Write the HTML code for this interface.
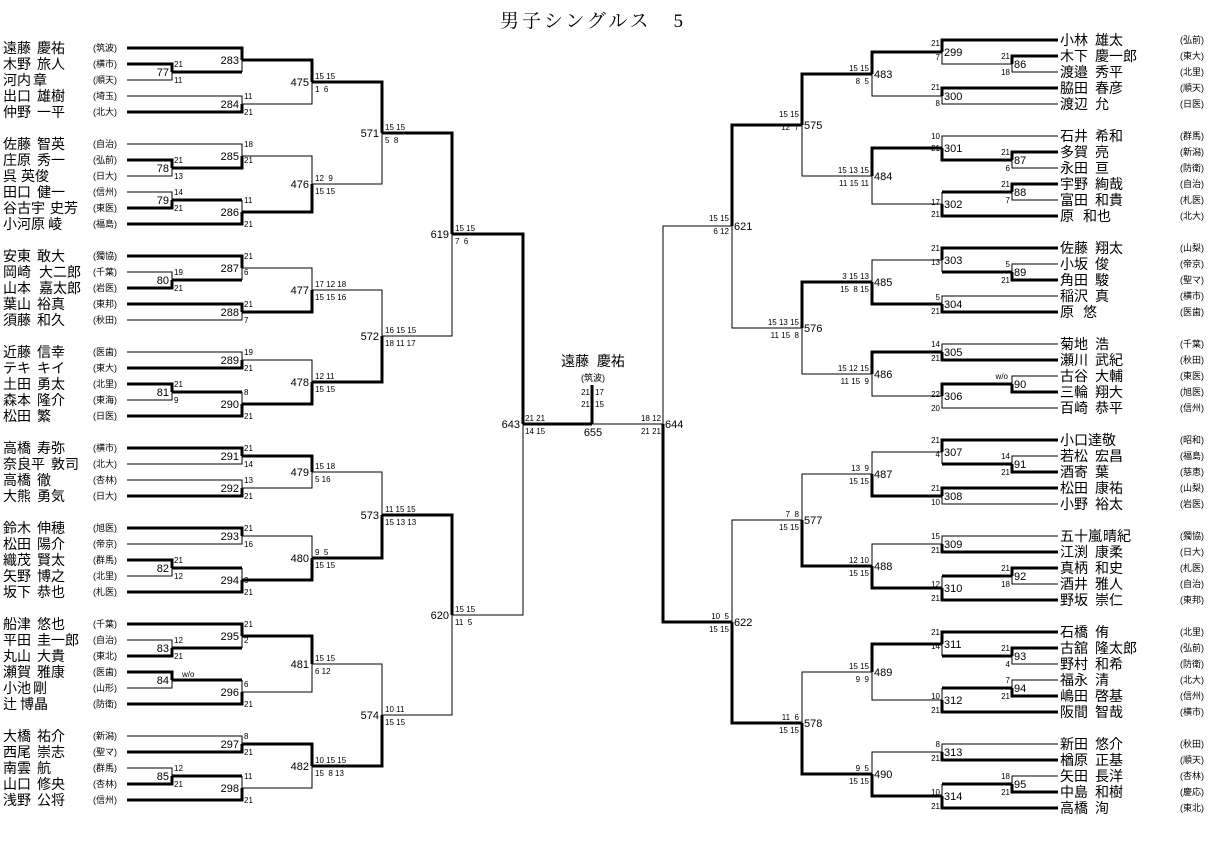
<!DOCTYPE html>
<html><head><meta charset="utf-8"><style>
html,body{margin:0;padding:0;background:#fff;width:1214px;height:841px;overflow:hidden}
svg{display:block}
text{font-family:"Liberation Sans","Noto Sans CJK JP",sans-serif;fill:#000;white-space:pre}
.n{font-size:14px}
.s{font-size:9px}
.m{font-size:11px}
.c{font-size:8px}
.r{text-anchor:end}
.ct{text-anchor:middle}
</style></head><body>
<svg width="1214" height="841" viewBox="0 0 1214 841" xmlns="http://www.w3.org/2000/svg" shape-rendering="crispEdges">
<text x="500" y="27" font-size="19" textLength="183" style='font-family:"Liberation Serif","Noto Serif CJK SC",serif'>男子シングルス　5</text>

<g fill="none" stroke="#000" stroke-width="3">
<path d="M127 64H172V72M127 48H242V60M172 72H242M127 112H242V104M242 60H312V82
M127 160H172V168M172 168H242V156M127 208H172V200M172 200H242M127 224H242V212M242 212H312V184M312 82H382V133
M127 288H172V280M127 256H242V268M172 280H242M127 304H242V312M242 312H312V290
M127 384H172V392M127 368H242V360M172 392H242M127 416H242V404M242 404H312V382M312 382H382V336M382 133H452V234
M127 448H242V456M127 496H242V488M242 456H312V472
M127 528H242V536M127 560H172V568M172 568H242M127 592H242V580M242 580H312V558M312 558H382V515
M127 656H172V648M127 624H242V636M172 648H242M127 672H172V680M172 680H242M127 704H242V692M242 636H312V664
M127 752H242V744M127 784H172V776M172 776H242M127 800H242V788M242 744H312V766M312 766H382V715M382 515H452V615
M452 234H523V424M523 424H592M592 385V424"/>
<path d="M1058 56H1012V64M1058 40H942V52M1058 88H942V96M942 52H872V74
M1058 152H1012V160M1012 160H942V148M1058 184H1012V192M1012 192H942M1058 216H942V204M942 148H872V176M872 74H802V125
M1058 280H1012V272M1058 248H942V260M1012 272H942M1058 312H942V304M942 304H872V282
M1058 360H942V352M1058 392H1012V384M1012 384H942V396M942 352H872V374M872 282H802V328M802 125H732V226
M1058 472H1012V464M1058 440H942V452M1012 464H942M1058 488H942V496M942 496H872V474
M1058 552H942V544M1058 568H1012V576M1012 576H942M1058 600H942V588M942 588H872V566M872 566H802V520
M1058 648H1012V656M1058 632H942V644M1012 656H942M1058 696H1012V688M1012 688H942M1058 712H942V700M942 644H872V672
M1058 760H942V752M1058 792H1012V784M1012 784H942M1058 808H942V796M942 796H872V774M872 774H802V723M802 723H732V622
M732 622H663V424"/>
</g>
<g fill="none" stroke="#000" stroke-width="1">
<path d="M127 80H172V72M242 72V60M127 96H242V104M242 104H312V82
M127 176H172V168M127 144H242V156M127 192H172V200M242 200V212M242 156H312V184M312 184H382V133
M127 272H172V280M242 280V268M127 320H242V312M242 268H312V290
M127 400H172V392M127 352H242V360M242 392V404M242 360H312V382M312 290H382V336M382 336H452V234
M127 464H242V456M127 480H242V488M242 488H312V472
M127 544H242V536M127 576H172V568M242 568V580M242 536H312V558M312 472H382V515
M127 640H172V648M242 648V636M127 688H172V680M242 680V692M242 692H312V664
M127 736H242V744M127 768H172V776M242 776V788M242 788H312V766M312 664H382V715M382 715H452V615
M452 615H523V424M592 424H663"/>
<path d="M1058 72H1012V64M1012 64H942V52M1058 104H942V96M942 96H872V74
M1058 168H1012V160M1058 136H942V148M1058 200H1012V192M942 192V204M942 204H872V176M872 176H802V125
M1058 264H1012V272M942 272V260M1058 296H942V304M942 260H872V282
M1058 344H942V352M1058 376H1012V384M1058 408H942V396M942 396H872V374M872 374H802V328M802 328H732V226
M1058 456H1012V464M942 464V452M1058 504H942V496M942 452H872V474
M1058 536H942V544M1058 584H1012V576M942 576V588M942 544H872V566M872 474H802V520
M1058 664H1012V656M942 656V644M1058 680H1012V688M942 688V700M942 700H872V672
M1058 744H942V752M1058 776H1012V784M942 784V796M942 752H872V774M872 672H802V723M802 520H732V622
M732 226H663V424"/>
</g>

<!-- LEFT NAMES -->
<g class="n">
<text x="3" y="53">遠藤</text><text x="37" y="53">慶祐</text>
<text x="3" y="69">木野</text><text x="37" y="69">旅人</text>
<text x="3" y="85">河内</text><text x="33" y="85">章</text>
<text x="3" y="101">出口</text><text x="37" y="101">雄樹</text>
<text x="3" y="117">仲野</text><text x="37" y="117">一平</text>
<text x="3" y="149">佐藤</text><text x="37" y="149">智英</text>
<text x="3" y="165">庄原</text><text x="37" y="165">秀一</text>
<text x="3" y="181">呉</text><text x="21" y="181">英俊</text>
<text x="3" y="197">田口</text><text x="37" y="197">健一</text>
<text x="3" y="213">谷古宇</text><text x="50" y="213">史芳</text>
<text x="3" y="229">小河原</text><text x="48" y="229">崚</text>
<text x="3" y="261">安東</text><text x="37" y="261">敢大</text>
<text x="3" y="277">岡崎</text><text x="39" y="277">大二郎</text>
<text x="3" y="293">山本</text><text x="39" y="293">嘉太郎</text>
<text x="3" y="309">葉山</text><text x="37" y="309">裕真</text>
<text x="3" y="325">須藤</text><text x="37" y="325">和久</text>
<text x="3" y="357">近藤</text><text x="37" y="357">信幸</text>
<text x="3" y="373">テキ</text><text x="37" y="373">キイ</text>
<text x="3" y="389">土田</text><text x="37" y="389">勇太</text>
<text x="3" y="405">森本</text><text x="37" y="405">隆介</text>
<text x="3" y="421">松田</text><text x="37" y="421">繁</text>
<text x="3" y="453">高橋</text><text x="37" y="453">寿弥</text>
<text x="3" y="469">奈良平</text><text x="51" y="469">敦司</text>
<text x="3" y="485">高橋</text><text x="37" y="485">徹</text>
<text x="3" y="501">大熊</text><text x="37" y="501">勇気</text>
<text x="3" y="533">鈴木</text><text x="37" y="533">伸穂</text>
<text x="3" y="549">松田</text><text x="37" y="549">陽介</text>
<text x="3" y="565">織茂</text><text x="37" y="565">賢太</text>
<text x="3" y="581">矢野</text><text x="37" y="581">博之</text>
<text x="3" y="597">坂下</text><text x="37" y="597">恭也</text>
<text x="3" y="629">船津</text><text x="37" y="629">悠也</text>
<text x="3" y="645">平田</text><text x="37" y="645">圭一郎</text>
<text x="3" y="661">丸山</text><text x="37" y="661">大貴</text>
<text x="3" y="677">瀬賀</text><text x="37" y="677">雅康</text>
<text x="3" y="693">小池</text><text x="33" y="693">剛</text>
<text x="3" y="709">辻</text><text x="20" y="709">博晶</text>
<text x="3" y="741">大橋</text><text x="37" y="741">祐介</text>
<text x="3" y="757">西尾</text><text x="37" y="757">崇志</text>
<text x="3" y="773">南雲</text><text x="37" y="773">航</text>
<text x="3" y="789">山口</text><text x="37" y="789">修央</text>
<text x="3" y="805">浅野</text><text x="37" y="805">公将</text>
</g>
<g class="s">
<text x="93" y="51">(筑波)</text><text x="93" y="67">(横市)</text><text x="93" y="83">(順天)</text><text x="93" y="99">(埼玉)</text><text x="93" y="115">(北大)</text>
<text x="93" y="147">(自治)</text><text x="93" y="163">(弘前)</text><text x="93" y="179">(日大)</text><text x="93" y="195">(信州)</text><text x="93" y="211">(東医)</text><text x="93" y="227">(福島)</text>
<text x="93" y="259">(獨協)</text><text x="93" y="275">(千葉)</text><text x="93" y="291">(岩医)</text><text x="93" y="307">(東邦)</text><text x="93" y="323">(秋田)</text>
<text x="93" y="355">(医歯)</text><text x="93" y="371">(東大)</text><text x="93" y="387">(北里)</text><text x="93" y="403">(東海)</text><text x="93" y="419">(日医)</text>
<text x="93" y="451">(横市)</text><text x="93" y="467">(北大)</text><text x="93" y="483">(杏林)</text><text x="93" y="499">(日大)</text>
<text x="93" y="531">(旭医)</text><text x="93" y="547">(帝京)</text><text x="93" y="563">(群馬)</text><text x="93" y="579">(北里)</text><text x="93" y="595">(札医)</text>
<text x="93" y="627">(千葉)</text><text x="93" y="643">(自治)</text><text x="93" y="659">(東北)</text><text x="93" y="675">(医歯)</text><text x="93" y="691">(山形)</text><text x="93" y="707">(防衛)</text>
<text x="93" y="739">(新潟)</text><text x="93" y="755">(聖マ)</text><text x="93" y="771">(群馬)</text><text x="93" y="787">(杏林)</text><text x="93" y="803">(信州)</text>
</g>

<!-- RIGHT NAMES -->
<g class="n">
<text x="1060" y="45">小林</text><text x="1095" y="45">雄太</text>
<text x="1060" y="61">木下</text><text x="1095" y="61">慶一郎</text>
<text x="1060" y="77">渡邉</text><text x="1095" y="77">秀平</text>
<text x="1060" y="93">脇田</text><text x="1095" y="93">春彦</text>
<text x="1060" y="109">渡辺</text><text x="1095" y="109">允</text>
<text x="1060" y="141">石井</text><text x="1095" y="141">希和</text>
<text x="1060" y="157">多賀</text><text x="1095" y="157">亮</text>
<text x="1060" y="173">永田</text><text x="1095" y="173">亘</text>
<text x="1060" y="189">宇野</text><text x="1095" y="189">絢哉</text>
<text x="1060" y="205">富田</text><text x="1095" y="205">和貴</text>
<text x="1060" y="221">原</text><text x="1083" y="221">和也</text>
<text x="1060" y="253">佐藤</text><text x="1095" y="253">翔太</text>
<text x="1060" y="269">小坂</text><text x="1095" y="269">俊</text>
<text x="1060" y="285">角田</text><text x="1095" y="285">駿</text>
<text x="1060" y="301">稲沢</text><text x="1095" y="301">真</text>
<text x="1060" y="317">原</text><text x="1083" y="317">悠</text>
<text x="1060" y="349">菊地</text><text x="1095" y="349">浩</text>
<text x="1060" y="365">瀬川</text><text x="1095" y="365">武紀</text>
<text x="1060" y="381">古谷</text><text x="1095" y="381">大輔</text>
<text x="1060" y="397">三輪</text><text x="1095" y="397">翔大</text>
<text x="1060" y="413">百崎</text><text x="1095" y="413">恭平</text>
<text x="1060" y="445">小口達敬</text>
<text x="1060" y="461">若松</text><text x="1095" y="461">宏昌</text>
<text x="1060" y="477">酒寄</text><text x="1095" y="477">葉</text>
<text x="1060" y="493">松田</text><text x="1095" y="493">康祐</text>
<text x="1060" y="509">小野</text><text x="1095" y="509">裕太</text>
<text x="1060" y="541">五十嵐</text><text x="1103" y="541">晴紀</text>
<text x="1060" y="557">江渕</text><text x="1095" y="557">康柔</text>
<text x="1060" y="573">真柄</text><text x="1095" y="573">和史</text>
<text x="1060" y="589">酒井</text><text x="1095" y="589">雅人</text>
<text x="1060" y="605">野坂</text><text x="1095" y="605">崇仁</text>
<text x="1060" y="637">石橋</text><text x="1095" y="637">侑</text>
<text x="1060" y="653">古舘</text><text x="1095" y="653">隆太郎</text>
<text x="1060" y="669">野村</text><text x="1095" y="669">和希</text>
<text x="1060" y="685">福永</text><text x="1095" y="685">清</text>
<text x="1060" y="701">嶋田</text><text x="1095" y="701">啓基</text>
<text x="1060" y="717">阪間</text><text x="1095" y="717">智哉</text>
<text x="1060" y="749">新田</text><text x="1095" y="749">悠介</text>
<text x="1060" y="765">楢原</text><text x="1095" y="765">正基</text>
<text x="1060" y="781">矢田</text><text x="1095" y="781">長洋</text>
<text x="1060" y="797">中島</text><text x="1095" y="797">和樹</text>
<text x="1060" y="813">高橋</text><text x="1095" y="813">洵</text>
</g>
<g class="s">
<text x="1180" y="43">(弘前)</text><text x="1180" y="59">(東大)</text><text x="1180" y="75">(北里)</text><text x="1180" y="91">(順天)</text><text x="1180" y="107">(日医)</text>
<text x="1180" y="139">(群馬)</text><text x="1180" y="155">(新潟)</text><text x="1180" y="171">(防衛)</text><text x="1180" y="187">(自治)</text><text x="1180" y="203">(札医)</text><text x="1180" y="219">(北大)</text>
<text x="1180" y="251">(山梨)</text><text x="1180" y="267">(帝京)</text><text x="1180" y="283">(聖マ)</text><text x="1180" y="299">(横市)</text><text x="1180" y="315">(医歯)</text>
<text x="1180" y="347">(千葉)</text><text x="1180" y="363">(秋田)</text><text x="1180" y="379">(東医)</text><text x="1180" y="395">(旭医)</text><text x="1180" y="411">(信州)</text>
<text x="1180" y="443">(昭和)</text><text x="1180" y="459">(福島)</text><text x="1180" y="475">(慈恵)</text><text x="1180" y="491">(山梨)</text><text x="1180" y="507">(岩医)</text>
<text x="1180" y="539">(獨協)</text><text x="1180" y="555">(日大)</text><text x="1180" y="571">(札医)</text><text x="1180" y="587">(自治)</text><text x="1180" y="603">(東邦)</text>
<text x="1180" y="635">(北里)</text><text x="1180" y="651">(弘前)</text><text x="1180" y="667">(防衛)</text><text x="1180" y="683">(北大)</text><text x="1180" y="699">(信州)</text><text x="1180" y="715">(横市)</text>
<text x="1180" y="747">(秋田)</text><text x="1180" y="763">(順天)</text><text x="1180" y="779">(杏林)</text><text x="1180" y="795">(慶応)</text><text x="1180" y="811">(東北)</text>
</g>

<!-- LEFT MATCH NUMBERS -->
<g class="m r">
<text x="169" y="76">77</text><text x="239" y="64">283</text><text x="239" y="108">284</text><text x="309" y="86">475</text>
<text x="169" y="172">78</text><text x="239" y="160">285</text><text x="169" y="204">79</text><text x="239" y="216">286</text><text x="309" y="188">476</text><text x="379" y="137">571</text>
<text x="169" y="284">80</text><text x="239" y="272">287</text><text x="239" y="316">288</text><text x="309" y="294">477</text>
<text x="169" y="396">81</text><text x="239" y="364">289</text><text x="239" y="408">290</text><text x="309" y="386">478</text><text x="379" y="340">572</text><text x="449" y="238">619</text>
<text x="239" y="460">291</text><text x="239" y="492">292</text><text x="309" y="476">479</text>
<text x="239" y="540">293</text><text x="169" y="572">82</text><text x="239" y="584">294</text><text x="309" y="562">480</text><text x="379" y="519">573</text>
<text x="169" y="652">83</text><text x="239" y="640">295</text><text x="169" y="684">84</text><text x="239" y="696">296</text><text x="309" y="668">481</text>
<text x="239" y="748">297</text><text x="169" y="780">85</text><text x="239" y="792">298</text><text x="309" y="770">482</text><text x="379" y="719">574</text><text x="449" y="619">620</text>
<text x="520" y="428">643</text>
</g>
<!-- LEFT SCORES -->
<g class="c">
<text x="174" y="67">21</text><text x="174" y="83">11</text>
<text x="244" y="99">11</text><text x="244" y="115">21</text>
<text x="174" y="163">21</text><text x="174" y="179">13</text>
<text x="244" y="147">18</text><text x="244" y="163">21</text>
<text x="174" y="195">14</text><text x="174" y="211">21</text>
<text x="244" y="203">11</text><text x="244" y="227">21</text>
<text x="174" y="275">19</text><text x="174" y="291">21</text>
<text x="244" y="259">21</text><text x="244" y="275">6</text>
<text x="244" y="307">21</text><text x="244" y="323">7</text>
<text x="174" y="387">21</text><text x="174" y="403">9</text>
<text x="244" y="355">19</text><text x="244" y="371">21</text>
<text x="244" y="395">8</text><text x="244" y="419">21</text>
<text x="244" y="451">21</text><text x="244" y="467">14</text>
<text x="244" y="483">13</text><text x="244" y="499">21</text>
<text x="244" y="531">21</text><text x="244" y="547">16</text>
<text x="174" y="563">21</text><text x="174" y="579">12</text>
<text x="244" y="583">3</text><text x="244" y="595">21</text>
<text x="174" y="643">12</text><text x="174" y="659">21</text>
<text x="244" y="627">21</text><text x="244" y="643">2</text>
<text x="182" y="677">w/o</text>
<text x="244" y="687">6</text><text x="244" y="707">21</text>
<text x="244" y="739">8</text><text x="244" y="755">21</text>
<text x="174" y="771">12</text><text x="174" y="787">21</text>
<text x="244" y="779">11</text><text x="244" y="803">21</text>
<text x="315" y="79">15 15</text><text x="315" y="92">1  6</text>
<text x="315" y="181">12  9</text><text x="315" y="194">15 15</text>
<text x="385" y="130">15 15</text><text x="385" y="143">5  8</text>
<text x="315" y="287">17 12 18</text><text x="315" y="300">15 15 16</text>
<text x="315" y="379">12 11</text><text x="315" y="392">15 15</text>
<text x="385" y="333">16 15 15</text><text x="385" y="346">18 11 17</text>
<text x="455" y="231">15 15</text><text x="455" y="244">7  6</text>
<text x="315" y="469">15 18</text><text x="315" y="482">5 16</text>
<text x="315" y="555">9  5</text><text x="315" y="568">15 15</text>
<text x="385" y="512">11 15 15</text><text x="385" y="525">15 13 13</text>
<text x="315" y="661">15 15</text><text x="315" y="674">6 12</text>
<text x="315" y="763">10 15 15</text><text x="315" y="776">15  8 13</text>
<text x="385" y="712">10 11</text><text x="385" y="725">15 15</text>
<text x="455" y="612">15 15</text><text x="455" y="625">11  5</text>
<text x="525" y="421">21 21</text><text x="525" y="434">14 15</text>
</g>

<!-- RIGHT MATCH NUMBERS -->
<g class="m">
<text x="1014" y="68">86</text><text x="944" y="56">299</text><text x="944" y="100">300</text><text x="874" y="78">483</text>
<text x="1014" y="164">87</text><text x="944" y="152">301</text><text x="1014" y="196">88</text><text x="944" y="208">302</text><text x="874" y="180">484</text><text x="804" y="129">575</text>
<text x="1014" y="276">89</text><text x="944" y="264">303</text><text x="944" y="308">304</text><text x="874" y="286">485</text>
<text x="944" y="356">305</text><text x="1014" y="388">90</text><text x="944" y="400">306</text><text x="874" y="378">486</text><text x="804" y="332">576</text><text x="734" y="230">621</text>
<text x="1014" y="468">91</text><text x="944" y="456">307</text><text x="944" y="500">308</text><text x="874" y="478">487</text>
<text x="944" y="548">309</text><text x="1014" y="580">92</text><text x="944" y="592">310</text><text x="874" y="570">488</text><text x="804" y="524">577</text>
<text x="1014" y="660">93</text><text x="944" y="648">311</text><text x="1014" y="692">94</text><text x="944" y="704">312</text><text x="874" y="676">489</text>
<text x="944" y="756">313</text><text x="1014" y="788">95</text><text x="944" y="800">314</text><text x="874" y="778">490</text><text x="804" y="727">578</text><text x="734" y="626">622</text>
<text x="665" y="428">644</text>
</g>
<!-- RIGHT SCORES -->
<g class="c r">
<text x="1010" y="59">21</text><text x="1010" y="75">18</text>
<text x="940" y="46">21</text><text x="940" y="60">7</text>
<text x="940" y="90">21</text><text x="940" y="106">8</text>
<text x="1010" y="155">21</text><text x="1010" y="171">6</text>
<text x="940" y="139">10</text><text x="940" y="151">21</text>
<text x="1010" y="187">21</text><text x="1010" y="203">7</text>
<text x="940" y="205">17</text><text x="940" y="217">21</text>
<text x="1010" y="267">5</text><text x="1010" y="283">21</text>
<text x="940" y="251">21</text><text x="940" y="265">13</text>
<text x="940" y="300">5</text><text x="940" y="314">21</text>
<text x="940" y="347">14</text><text x="940" y="361">21</text>
<text x="1008" y="379">w/o</text>
<text x="940" y="397">22</text><text x="940" y="411">20</text>
<text x="1010" y="459">14</text><text x="1010" y="475">21</text>
<text x="940" y="443">21</text><text x="940" y="457">4</text>
<text x="940" y="491">21</text><text x="940" y="505">10</text>
<text x="940" y="539">15</text><text x="940" y="553">21</text>
<text x="1010" y="571">21</text><text x="1010" y="587">18</text>
<text x="940" y="587">12</text><text x="940" y="601">21</text>
<text x="1010" y="651">21</text><text x="1010" y="667">4</text>
<text x="940" y="635">21</text><text x="940" y="649">14</text>
<text x="1010" y="683">7</text><text x="1010" y="699">21</text>
<text x="940" y="699">10</text><text x="940" y="713">21</text>
<text x="940" y="747">8</text><text x="940" y="761">21</text>
<text x="1010" y="779">18</text><text x="1010" y="795">21</text>
<text x="940" y="795">10</text><text x="940" y="809">21</text>
<text x="869" y="71">15 15</text><text x="869" y="84">8  5</text>
<text x="869" y="173">15 13 15</text><text x="869" y="186">11 15 11</text>
<text x="799" y="117">15 15</text><text x="799" y="130">12  7</text>
<text x="869" y="279">3 15 13</text><text x="869" y="292">15  8 15</text>
<text x="869" y="371">15 12 15</text><text x="869" y="384">11 15  9</text>
<text x="799" y="325">15 13 15</text><text x="799" y="338">11 15  8</text>
<text x="729" y="221">15 15</text><text x="729" y="234">6 12</text>
<text x="869" y="471">13  9</text><text x="869" y="484">15 15</text>
<text x="869" y="563">12 10</text><text x="869" y="576">15 15</text>
<text x="799" y="517">7  8</text><text x="799" y="530">15 15</text>
<text x="869" y="669">15 15</text><text x="869" y="682">9  9</text>
<text x="869" y="771">9  5</text><text x="869" y="784">15 15</text>
<text x="799" y="720">11  6</text><text x="799" y="733">15 15</text>
<text x="729" y="619">10  5</text><text x="729" y="632">15 15</text>
<text x="661" y="421">18 12</text><text x="661" y="434">21 21</text>
</g>

<!-- FINAL -->
<text class="n ct" x="593" y="366">遠藤  慶祐</text>
<text class="s ct" x="593" y="381">(筑波)</text>
<text class="c r" x="590" y="395">21</text><text class="c" x="595" y="395">17</text>
<text class="c r" x="590" y="407">21</text><text class="c" x="595" y="407">15</text>
<text class="m ct" x="593" y="436">655</text>
</svg>
</body></html>
